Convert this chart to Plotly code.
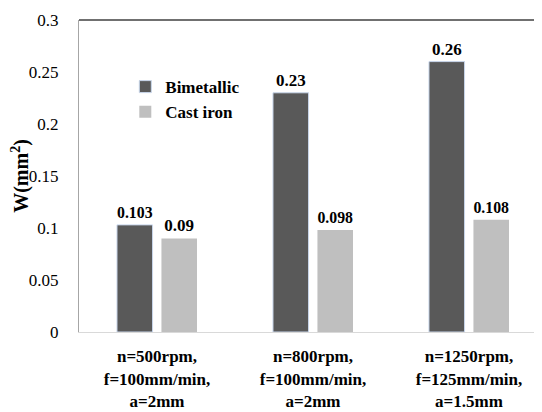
import plotly.graph_objects as go

categories = [
    "n=500rpm,<br>f=100mm/min,<br>a=2mm",
    "n=800rpm,<br>f=100mm/min,<br>a=2mm",
    "n=1250rpm,<br>f=125mm/min,<br>a=1.5mm",
]
bimetallic = [0.103, 0.23, 0.26]
cast_iron = [0.09, 0.098, 0.108]
bimetallic_labels = ["0.103", "0.23", "0.26"]
cast_iron_labels = ["0.09", "0.098", "0.108"]
y_ticks = [0, 0.05, 0.1, 0.15, 0.2, 0.25, 0.3]
y_tick_text = ["0", "0.05", "0.1", "0.15", "0.2", "0.25", "0.3"]

FONT = "Times New Roman"

fig = go.Figure()
fig.add_trace(go.Bar(
    name="<b>Bimetallic</b>", x=categories, y=bimetallic,
    marker=dict(color="#595959", line=dict(color="#c9d7ec", width=1)),
    text=["<b>%s</b>" % t for t in bimetallic_labels], textposition="outside",
    textfont=dict(family=FONT, size=17, color="#000000"), cliponaxis=False,
))
fig.add_trace(go.Bar(
    name="<b>Cast iron</b>", x=categories, y=cast_iron,
    marker=dict(color="#bfbfbf", line=dict(width=0)),
    text=["<b>%s</b>" % t for t in cast_iron_labels], textposition="outside",
    textfont=dict(family=FONT, size=17, color="#000000"), cliponaxis=False,
))

# body has an 8px default margin in the page, compensate
fig.update_layout(
    width=534, height=404,
    margin=dict(l=71, r=0, t=12, b=80),
    paper_bgcolor="white", plot_bgcolor="white",
    barmode="group", bargap=0.43, bargroupgap=0.2,
    font=dict(family=FONT, size=17, color="#000000"),
    legend=dict(x=0.1, y=0.745, xanchor="left", yanchor="middle",
                font=dict(family=FONT, size=17, color="#000000"),
                bgcolor="rgba(0,0,0,0)", itemwidth=30),
    showlegend=True,
    xaxis=dict(range=[-0.5, 2.468], showline=True, linecolor="#d9d9d9", linewidth=1,
               ticks="", showgrid=False, zeroline=False, automargin=False,
               ticklabelstandoff=9,
               tickfont=dict(family=FONT, size=17, color="#000000"),
               tickprefix="<b>", ticksuffix="</b>"),
    yaxis=dict(range=[0, 0.3], tickvals=y_ticks, ticktext=y_tick_text,
               showline=True, linecolor="#a6a6a6", linewidth=1, automargin=False,
               showgrid=False, zeroline=False, ticks="", ticklabelstandoff=16,
               tickfont=dict(family=FONT, size=17, color="#000000"),
               title=dict(text="<b>W(mm<sup>2</sup>)</b>", standoff=8,
                          font=dict(family=FONT, size=20, color="#000000"))),
    shapes=[dict(type="line", xref="paper", yref="paper", x0=0, x1=1, y0=1, y1=1,
                 line=dict(color="#404040", width=1.5))],
)

fig.write_html("out.html")
